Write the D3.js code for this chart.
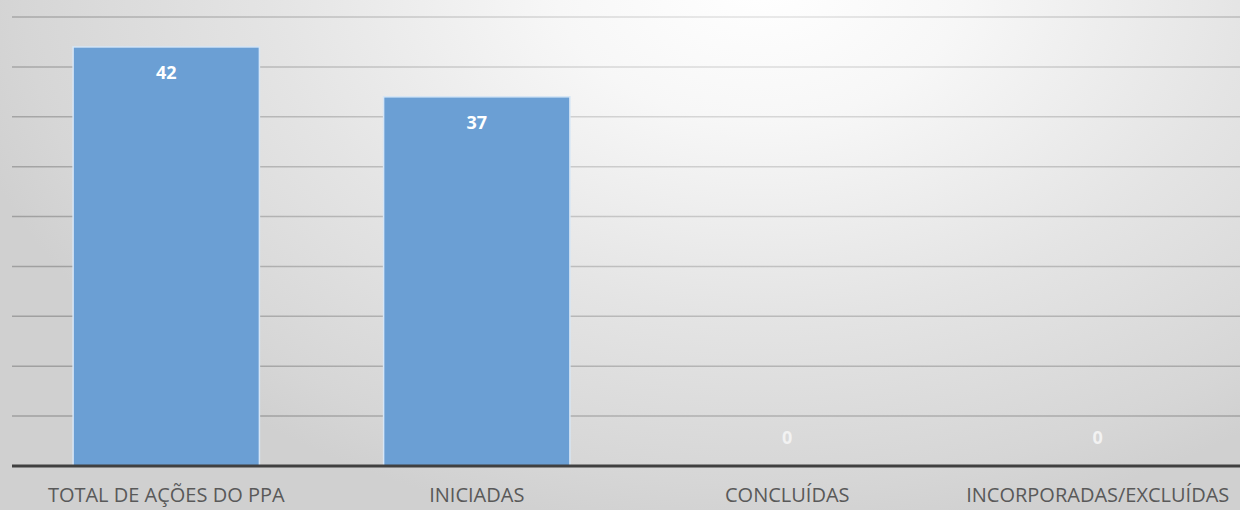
<!DOCTYPE html>
<html><head><meta charset="utf-8">
<script src="https://cdn.jsdelivr.net/npm/d3@7"></script>
<style>body{margin:0;}svg{display:block;}</style>
</head><body>
<svg id="c" width="1240" height="510"></svg>
<script>
const categories = ["TOTAL DE AÇÕES DO PPA", "INICIADAS", "CONCLUÍDAS", "INCORPORADAS/EXCLUÍDAS"];
const values = [42, 37, 0, 0];
const gridTicks = [5, 10, 15, 20, 25, 30, 35, 40, 45];

const svg = d3.select("#c");
const W = 1240, H = 510;
const defs = svg.append("defs");
function radial(id, stops){
  const g = defs.append("radialGradient").attr("id",id)
    .attr("gradientUnits","userSpaceOnUse").attr("cx",0).attr("cy",0).attr("r",1)
    .attr("gradientTransform","translate(760,-20) scale(820,560)");
  stops.forEach(s=>g.append("stop").attr("offset",s[0]).attr("stop-color",s[1]));
}
radial("bg", [[0,"#ffffff"],[0.25,"#f7f7f7"],[0.6,"#e4e4e4"],[0.9,"#d6d6d6"],[1,"#d0d0d0"]]);
radial("gl", [[0,"#e6e6e6"],[0.25,"#d6d6d6"],[0.6,"#bababa"],[0.9,"#a8a8a8"],[1,"#a0a0a0"]]);
svg.append("rect").attr("width",W).attr("height",H).attr("fill","url(#bg)");

const x = d3.scaleBand().domain(categories).range([11, 1253]).paddingInner(0.4).paddingOuter(0.2);
const y = d3.scaleLinear().domain([0, 45]).range([466, 17]);

// gridlines (drawn in root coordinates so the gradient follows the page)
svg.append("g").selectAll("line").data(gridTicks).join("line")
  .attr("x1",12).attr("x2",W)
  .attr("y1",d=>y(d)).attr("y2",d=>y(d))
  .attr("stroke","url(#gl)").attr("stroke-width",1.5);

// bars
svg.append("g").selectAll("rect").data(values).join("rect")
  .attr("x",(d,i)=>x(categories[i]))
  .attr("y",d=>y(d))
  .attr("width",x.bandwidth())
  .attr("height",d=>y(0)-y(d))
  .attr("fill","#6b9fd4")
  .attr("stroke","#d6e6f6").attr("stroke-width",1.5);

// value labels
svg.append("g").selectAll("text").data(values).join("text")
  .attr("x",(d,i)=>x(categories[i])+x.bandwidth()/2)
  .attr("y",d=> d>0 ? y(d)+32 : y(0)-22)
  .attr("text-anchor","middle")
  .attr("font-family","'Open Sans', sans-serif")
  .attr("font-weight","bold")
  .attr("font-size",18)
  .attr("fill",d=>d>0?"#ffffff":"#f2f2f2")
  .text(d=>d);

// x axis
const xa = svg.append("g").attr("transform",`translate(0,${y(0)})`)
  .call(d3.axisBottom(x).tickSize(0).tickPadding(30));
xa.select(".domain").attr("stroke","#404040").attr("stroke-width",3).attr("d","M12,0H1240");
xa.selectAll("text").attr("font-family","'Open Sans', sans-serif").attr("font-size",20)
  .attr("fill","#595959").attr("dy","0.32em");
</script>
</body></html>
